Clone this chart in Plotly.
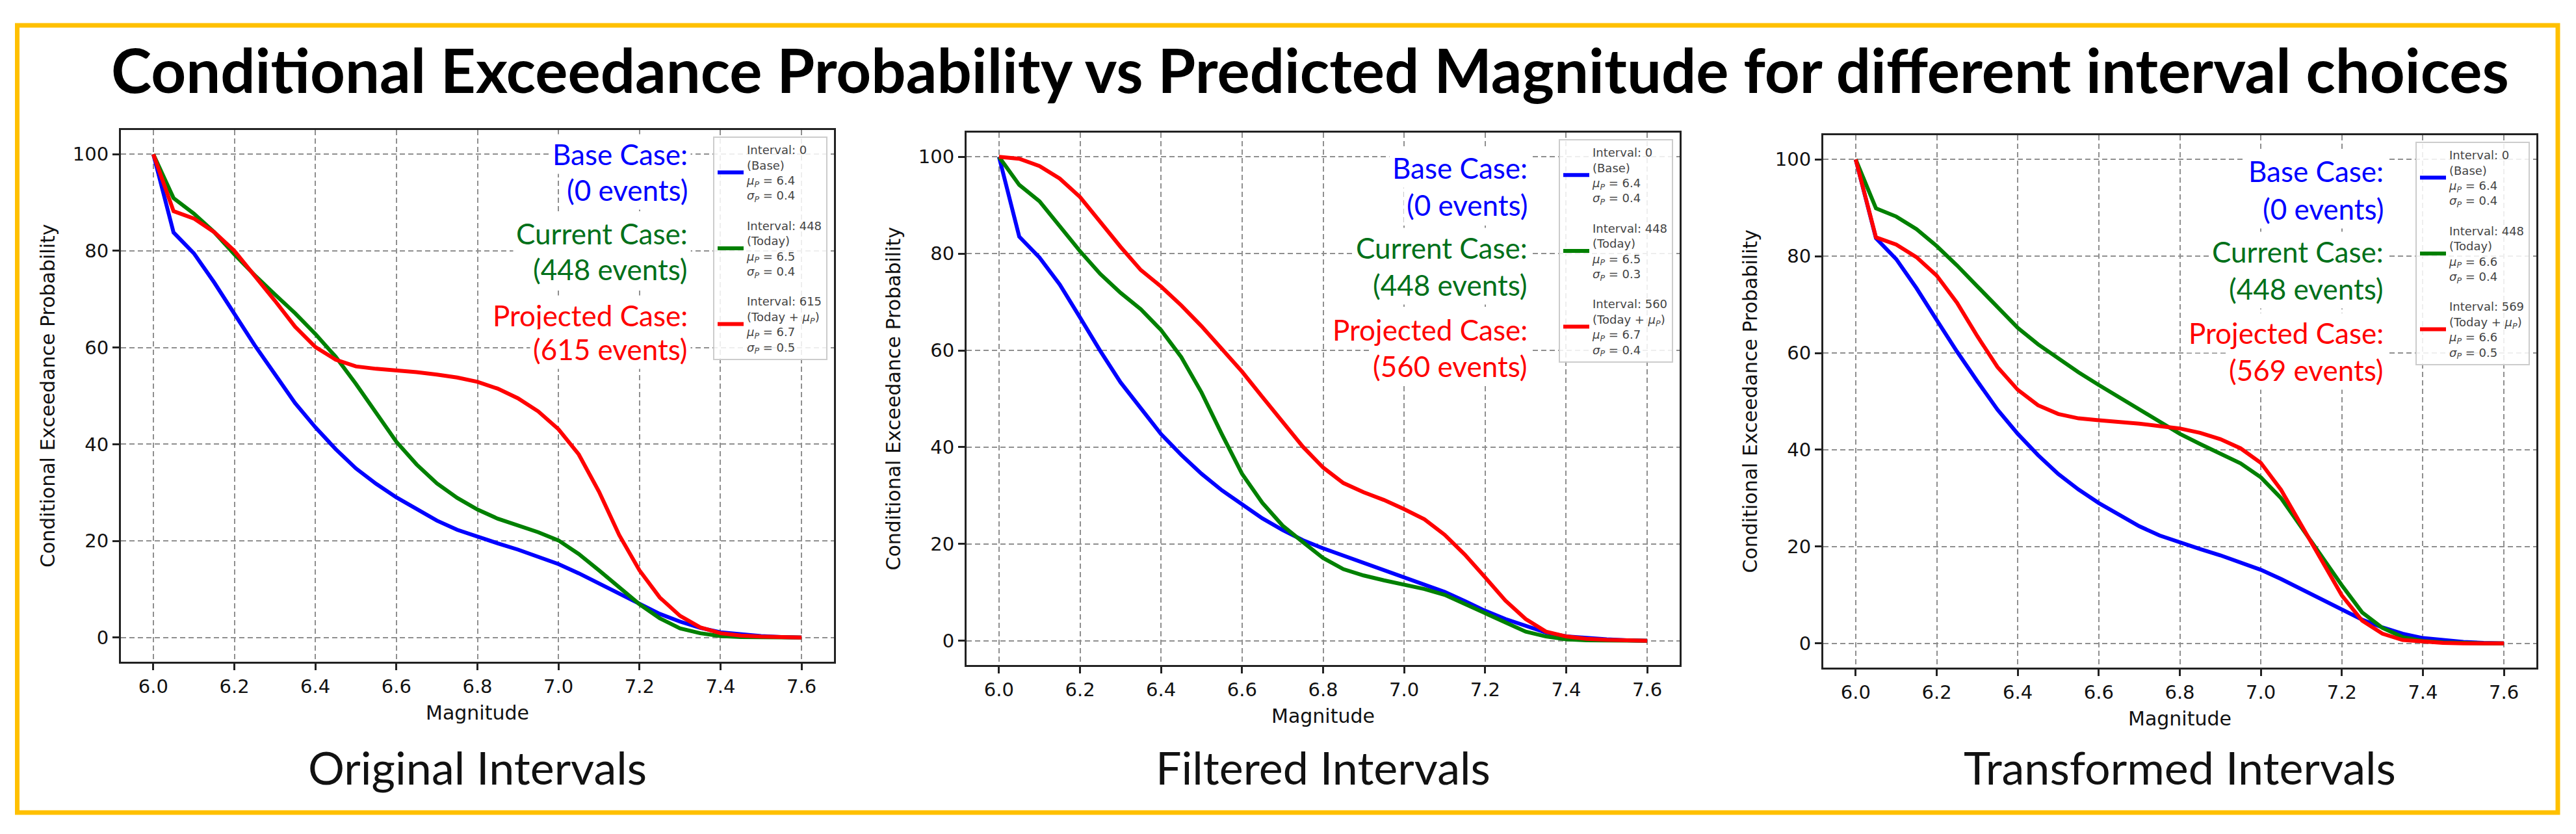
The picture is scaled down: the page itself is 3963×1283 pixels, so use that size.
import plotly.graph_objects as go

W, H = 3963, 1283

# ---------------- data ----------------
MAGNITUDE = [6.00, 6.05, 6.10, 6.15, 6.20, 6.25, 6.30, 6.35, 6.40, 6.45, 6.50,
             6.55, 6.60, 6.65, 6.70, 6.75, 6.80, 6.85, 6.90, 6.95, 7.00,
             7.05, 7.10, 7.15, 7.20, 7.25, 7.30, 7.35, 7.40, 7.45, 7.50,
             7.55, 7.60]

# Original intervals
orig_base = [100, 83.8, 79.5, 73.5, 67.0, 60.5, 54.5, 48.5, 43.5, 39.0, 35.0,
             31.8, 29.0, 26.5, 24.2, 22.3, 20.8, 19.5, 18.2, 16.8, 15.2,
             13.3, 11.2, 9.0, 6.8, 4.9, 3.3, 2.0, 1.1, 0.6, 0.3, 0.1, 0.0]
orig_current = [100, 90.9, 87.7, 83.9, 79.3, 75.0, 71.0, 67.1, 62.8, 58.1, 52.5,
                46.5, 40.5, 35.8, 31.9, 28.9, 26.5, 24.6, 23.2, 21.8, 20.1,
                17.3, 13.9, 10.5, 6.9, 4.0, 1.9, 0.9, 0.3, 0.1, 0.0, 0.0, 0.0]
orig_projected = [100, 88.2, 86.7, 83.9, 80.0, 75.0, 69.7, 64.3, 60.1, 57.5, 56.1,
                  55.6, 55.3, 54.9, 54.4, 53.8, 52.9, 51.5, 49.5, 46.8, 43.1,
                  37.9, 30.2, 21.2, 13.9, 8.3, 4.5, 2.1, 0.9, 0.4, 0.2, 0.1, 0.0]

# Filtered intervals
filt_base = [100, 83.5, 79.2, 73.6, 66.8, 59.9, 53.4, 47.9, 42.7, 38.4, 34.5,
             31.1, 28.1, 25.3, 22.9, 20.8, 19.1, 17.6, 16.2, 14.8, 13.3,
             11.8, 10.1, 8.2, 6.2, 4.5, 3.0, 1.7, 0.9, 0.5, 0.3, 0.1, 0.0]
filt_current = [100, 94.2, 90.8, 85.7, 80.5, 75.8, 71.9, 68.5, 64.2, 58.6, 51.3,
                42.7, 34.5, 28.5, 23.8, 20.4, 17.1, 14.8, 13.5, 12.5, 11.6,
                10.7, 9.5, 7.6, 5.6, 3.6, 1.9, 0.9, 0.3, 0.1, 0.0, 0.0, 0.0]
filt_projected = [100, 99.6, 98.1, 95.5, 91.7, 86.5, 81.4, 76.6, 73.2, 69.3, 65.0,
                  60.3, 55.6, 50.4, 45.3, 40.1, 35.8, 32.6, 30.7, 29.1, 27.2,
                  25.1, 21.9, 17.8, 13.1, 8.3, 4.5, 1.9, 0.9, 0.4, 0.2, 0.1, 0.0]

# Transformed intervals
trans_base = [100, 83.7, 79.4, 73.4, 66.8, 60.3, 54.2, 48.3, 43.3, 38.9, 35.0,
              31.8, 29.0, 26.5, 24.2, 22.3, 20.8, 19.5, 18.2, 16.8, 15.2,
              13.3, 11.2, 9.0, 6.8, 4.9, 3.3, 2.0, 1.1, 0.6, 0.3, 0.1, 0.0]
trans_current = [100, 89.9, 88.2, 85.6, 82.1, 78.1, 73.8, 69.5, 65.2, 61.8, 58.8,
                 56.0, 53.4, 50.9, 48.3, 45.8, 43.3, 41.2, 39.2, 37.2, 34.3,
                 30.0, 24.0, 18.0, 12.0, 6.4, 3.2, 1.3, 0.5, 0.2, 0.0, 0.0, 0.0]
trans_projected = [100, 83.9, 82.4, 79.8, 76.0, 70.4, 63.5, 57.1, 52.4, 49.2, 47.4,
                   46.5, 46.1, 45.8, 45.4, 44.9, 44.4, 43.5, 42.2, 40.3, 37.3,
                   31.7, 24.5, 17.2, 9.9, 4.7, 2.0, 0.7, 0.3, 0.1, 0.0, 0.0, 0.0]

PANEL_NAMES = ["Original Intervals", "Filtered Intervals", "Transformed Intervals"]
PANEL_SERIES = [
    [orig_base, orig_current, orig_projected],
    [filt_base, filt_current, filt_projected],
    [trans_base, trans_current, trans_projected],
]
# legend info: (interval, label, mu, sigma)
PANEL_LEGEND = [
    [("0", "Base", "6.4", "0.4"), ("448", "Today", "6.5", "0.4"), ("615", "Today + μ", "6.7", "0.5")],
    [("0", "Base", "6.4", "0.4"), ("448", "Today", "6.5", "0.3"), ("560", "Today + μ", "6.7", "0.4")],
    [("0", "Base", "6.4", "0.4"), ("448", "Today", "6.6", "0.4"), ("569", "Today + μ", "6.6", "0.5")],
]
PANEL_EVENTS = [["0", "448", "615"], ["0", "448", "560"], ["0", "448", "569"]]
CASE_NAMES = ["Base Case:", "Current Case:", "Projected Case:"]

X_TICKS = [6.0, 6.2, 6.4, 6.6, 6.8, 7.0, 7.2, 7.4, 7.6]
Y_TICKS = [0, 20, 40, 60, 80, 100]

TITLE = "Conditional Exceedance Probability vs Predicted Magnitude for different interval choices"

# ---------------- style ----------------
LINE_COLORS = ["#0000ff", "#008000", "#ff0000"]
TEXT_COLORS = ["#0000ff", "#00701a", "#ff0000"]

# panel frames in pixels (left, right, top, bottom)
FRAMES = [(186, 1283, 200, 1018), (1487, 2584, 204, 1023), (2805, 3902, 208, 1027)]
TEXT_RIGHT = [0.7995, 0.791, 0.790]
# baselines of the six text lines, px below the frame top
TEXT_BASE = [[53, 108, 175, 230, 301, 353],
             [70, 127, 193, 250, 319, 375],
             [71, 129, 195, 252, 320, 377]]
CASE_FONT = 44


def px(x):
    return x / W


def py(y):
    return 1 - y / H


fig = go.Figure()
layout = dict(
    width=W, height=H,
    margin=dict(l=0, r=0, t=0, b=0),
    paper_bgcolor="white", plot_bgcolor="white",
    showlegend=True,
    annotations=[], shapes=[],
)

for i in range(3):
    k = "" if i == 0 else str(i + 1)
    xa, ya = "x" + k, "y" + k
    lg = "legend" + k
    l, r, t, b = FRAMES[i]
    for j in range(3):
        inter, lab, mu, sg = PANEL_LEGEND[i][j]
        if "μ" in lab:
            lab_txt = "(Today + <i>μ<sub>P</sub></i>)"
        else:
            lab_txt = f"({lab})"
        name = (f"Interval: {inter}<br>{lab_txt}<br>"
                f"<i>μ<sub>P</sub></i> = {mu}<br><i>σ<sub>P</sub></i> = {sg}")
        fig.add_trace(go.Scatter(
            x=MAGNITUDE, y=PANEL_SERIES[i][j], mode="lines",
            line=dict(color=LINE_COLORS[j], width=6),
            name=name, xaxis=xa, yaxis=ya, legend=lg,
            legendgroup=f"p{i}s{j}",
        ))

    axis_common = dict(
        showline=True, mirror=True, linecolor="#222", linewidth=3,
        ticks="outside", ticklen=10, tickwidth=2.5, tickcolor="#222",
        showgrid=True, gridcolor="#8f8f8f", gridwidth=1.8, griddash="8px,5px",
        zeroline=False,
        tickfont=dict(family="DejaVu Sans", size=29, color="#111"),
    )
    layout["xaxis" + k] = dict(
        axis_common, domain=[px(l), px(r)], range=[5.92, 7.68],
        tickmode="array", tickvals=X_TICKS, ticktext=[f"{v:.1f}" for v in X_TICKS],
        anchor=ya,
    )
    layout["yaxis" + k] = dict(
        axis_common, domain=[py(b), py(t)], range=[-5, 105],
        tickmode="array", tickvals=Y_TICKS, ticktext=[str(v) for v in Y_TICKS],
        anchor=xa,
    )
    layout[lg] = dict(
        x=px(r - 10), y=py(t + 10), xanchor="right", yanchor="top",
        xref="paper", yref="paper",
        bgcolor="rgba(255,255,255,0.85)", bordercolor="#cccccc", borderwidth=2,
        font=dict(family="DejaVu Sans", size=18, color="#444"),
        traceorder="grouped", tracegroupgap=20, valign="middle",
        itemwidth=40,
    )

    # case annotations, one per text line
    hpx = b - t
    for j in range(3):
        lines = [CASE_NAMES[j], f"({PANEL_EVENTS[i][j]} events)"]
        for m, txt in enumerate(lines):
            base = TEXT_BASE[i][2 * j + m]
            yc = base - 0.36 * CASE_FONT
            layout["annotations"].append(dict(
                text=txt,
                xref=xa + " domain", yref=ya + " domain",
                x=TEXT_RIGHT[i], y=1 - yc / hpx, xanchor="right", yanchor="middle",
                align="right", showarrow=False, bgcolor="white", borderpad=4,
                font=dict(family="Lato", size=CASE_FONT, color=TEXT_COLORS[j]),
            ))
    # axis titles
    layout["annotations"].append(dict(
        text="Magnitude", xref=xa + " domain", yref=ya + " domain",
        x=0.5, y=0, yanchor="middle", yshift=-78, showarrow=False,
        font=dict(family="DejaVu Sans", size=30, color="#111"),
    ))
    layout["annotations"].append(dict(
        text="Conditional Exceedance Probability", xref=xa + " domain", yref=ya + " domain",
        x=0, y=0.5, xanchor="center", yanchor="middle", xshift=-113, textangle=-90,
        showarrow=False, font=dict(family="DejaVu Sans", size=30, color="#111"),
    ))
    # panel caption
    layout["annotations"].append(dict(
        text=PANEL_NAMES[i], xref="paper", yref="paper",
        x=px((l + r) / 2), y=py(1180), xanchor="center", yanchor="middle",
        showarrow=False, font=dict(family="Lato", size=70, color="#111"),
    ))

# main title
layout["annotations"].append(dict(
    text=f"<b>{TITLE}</b>", xref="paper", yref="paper",
    x=px(2015), y=py(106), xanchor="center", yanchor="middle", showarrow=False,
    font=dict(family="Lato", size=94, color="#000"),
))

# yellow frame
layout["shapes"].append(dict(
    type="rect", xref="paper", yref="paper",
    x0=px(26.5), x1=px(3935), y0=py(1250), y1=py(39),
    line=dict(color="#FFC000", width=7), fillcolor="rgba(0,0,0,0)", layer="below",
))

fig.update_layout(**layout)
fig.write_html(
    "out.html",
    config={"displayModeBar": False},
    post_script="document.body.style.margin='0';document.body.style.overflow='hidden';",
)
